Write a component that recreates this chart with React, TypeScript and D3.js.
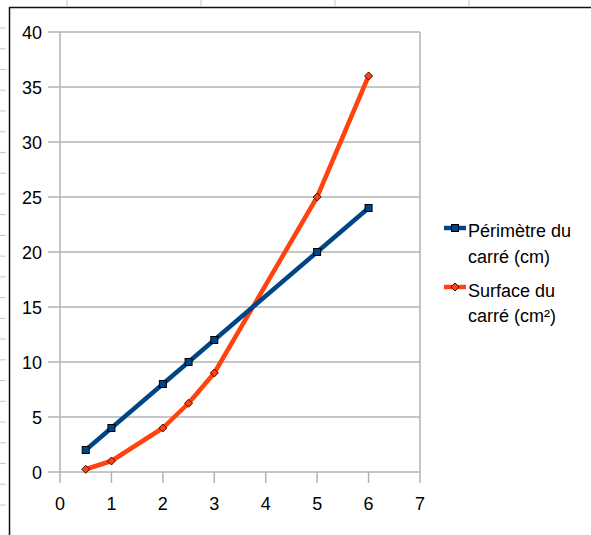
import React from "react";
import * as d3 from "d3";

const xs = [0.5, 1, 2, 2.5, 3, 5, 6];
const perimetre = [2, 4, 8, 10, 12, 20, 24];
const surface = [0.25, 1, 4, 6.25, 9, 25, 36];
const xTicks = [0, 1, 2, 3, 4, 5, 6, 7];
const yTicks = [0, 5, 10, 15, 20, 25, 30, 35, 40];
const legendLabels = [
  ["Périmètre du", "carré (cm)"],
  ["Surface du", "carré (cm²)"],
];

const W = 591;
const H = 535;
const BLUE = "#004586";
const ORANGE = "#ff420e";
const GRID = "#b3b3b3";
const FONT = "'Liberation Sans', Arial, sans-serif";

export default function App() {
  const x = d3.scaleLinear().domain([0, 7]).range([60, 420]);
  const y = d3.scaleLinear().domain([0, 40]).range([472, 32]);

  const line = d3
    .line<[number, number]>()
    .x((d) => x(d[0]))
    .y((d) => y(d[1]))
    .curve(d3.curveLinear);

  const pPts: [number, number][] = xs.map((v, i) => [v, perimetre[i]]);
  const sPts: [number, number][] = xs.map((v, i) => [v, surface[i]]);

  const rulerLeft = d3.range(0, 24).map((i) => 28 + i * 20.74);
  const rulerTop = d3.range(0, 4).map((i) => 67 + i * 134);

  const sq = 7;
  const dm = 4;
  const diamond = (cx: number, cy: number) =>
    `M${cx},${cy - dm}L${cx + dm},${cy}L${cx},${cy + dm}L${cx - dm},${cy}Z`;

  return (
    <svg
      width={W}
      height={H}
      style={{ position: "absolute", left: 0, top: 0, background: "#fff" }}
      fontFamily={FONT}
    >
      <rect x={0} y={0} width={W} height={H} fill="#fff" />
      {/* page ruler decorations */}
      {rulerLeft.map((v, i) => (
        <line key={"rl" + i} x1={0} x2={6} y1={v} y2={v} stroke="#c8c8c8" strokeWidth={1} />
      ))}
      {rulerTop.map((v, i) => (
        <line key={"rt" + i} x1={v} x2={v} y1={0} y2={6} stroke="#c8c8c8" strokeWidth={1} />
      ))}
      <line x1={9.5} x2={9.5} y1={7} y2={H} stroke="#111" strokeWidth={1.5} />
      <line x1={9} x2={W} y1={7.5} y2={7.5} stroke="#111" strokeWidth={1.5} />

      {/* grid */}
      {yTicks.map((t) => (
        <line key={"gy" + t} x1={48} x2={420} y1={y(t)} y2={y(t)} stroke={GRID} strokeWidth={1.5} />
      ))}
      <line x1={x(0)} x2={x(0)} y1={y(40)} y2={y(0) + 11} stroke={GRID} strokeWidth={1.5} />
      <line x1={x(7)} x2={x(7)} y1={y(40)} y2={y(0) + 11} stroke={GRID} strokeWidth={1.5} />
      {xTicks.slice(1, -1).map((t) => (
        <line key={"tx" + t} x1={x(t)} x2={x(t)} y1={y(0)} y2={y(0) + 11} stroke={GRID} strokeWidth={1.5} />
      ))}

      {/* labels */}
      {yTicks.map((t) => (
        <text key={"ly" + t} x={42} y={y(t) + 6.5} textAnchor="end" fontSize={18} fill="#000">
          {t}
        </text>
      ))}
      {xTicks.map((t) => (
        <text key={"lx" + t} x={x(t)} y={510} textAnchor="middle" fontSize={18} fill="#000">
          {t}
        </text>
      ))}

      {/* series */}
      <path d={line(sPts) || ""} fill="none" stroke={ORANGE} strokeWidth={4.5} strokeLinejoin="round" />
      <path d={line(pPts) || ""} fill="none" stroke={BLUE} strokeWidth={4.5} strokeLinejoin="round" />
      {sPts.map((d, i) => (
        <path key={"sd" + i} d={diamond(x(d[0]), y(d[1]))} fill={ORANGE} stroke="#3a1005" strokeWidth={1} />
      ))}
      {pPts.map((d, i) => (
        <rect
          key={"pm" + i}
          x={x(d[0]) - sq / 2}
          y={y(d[1]) - sq / 2}
          width={sq}
          height={sq}
          fill={BLUE}
          stroke="#000"
          strokeWidth={1}
        />
      ))}

      {/* legend */}
      <g>
        <line x1={444} x2={466} y1={228} y2={228} stroke={BLUE} strokeWidth={4.5} />
        <rect x={455 - sq / 2} y={228 - sq / 2} width={sq} height={sq} fill={BLUE} stroke="#000" strokeWidth={1} />
        <text x={468} y={237} fontSize={18} fill="#000">{legendLabels[0][0]}</text>
        <text x={468} y={263} fontSize={18} fill="#000">{legendLabels[0][1]}</text>

        <line x1={444} x2={466} y1={287} y2={287} stroke={ORANGE} strokeWidth={4.5} />
        <path d={diamond(455, 287)} fill={ORANGE} stroke="#3a1005" strokeWidth={1} />
        <text x={468} y={297} fontSize={18} fill="#000">{legendLabels[1][0]}</text>
        <text x={468} y={322} fontSize={18} fill="#000">{legendLabels[1][1]}</text>
      </g>
    </svg>
  );
}
